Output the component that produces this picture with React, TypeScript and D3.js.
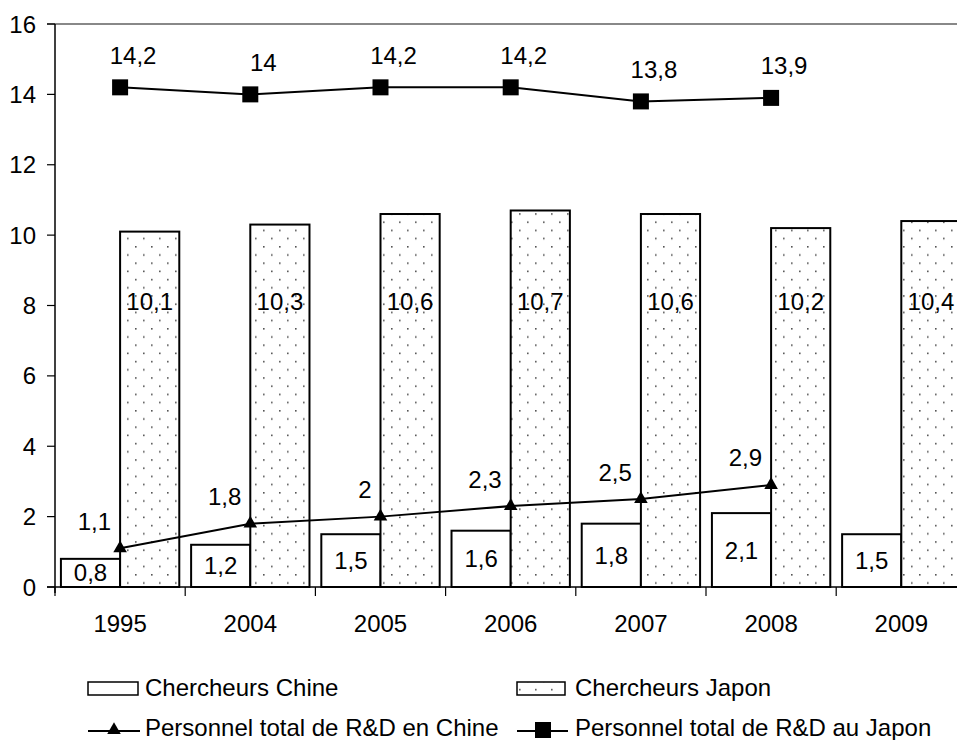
import React from "react";
import * as d3 from "d3";

const years = ["1995", "2004", "2005", "2006", "2007", "2008", "2009"];
const chercheursChine = [0.8, 1.2, 1.5, 1.6, 1.8, 2.1, 1.5];
const chercheursJapon = [10.1, 10.3, 10.6, 10.7, 10.6, 10.2, 10.4];
const personnelChine: (number | null)[] = [1.1, 1.8, 2, 2.3, 2.5, 2.9, null];
const personnelJapon: (number | null)[] = [14.2, 14, 14.2, 14.2, 13.8, 13.9, null];
const yTicks = [0, 2, 4, 6, 8, 10, 12, 14, 16];
const legendLabels = [
  "Chercheurs Chine",
  "Chercheurs Japon",
  "Personnel total de R&D en Chine",
  "Personnel total de R&D au Japon",
];

const W = 957;
const H = 740;
const FONT = "'Liberation Sans', Arial, sans-serif";
const FS = 24;
const JAPON_LABEL_LEVEL = 8.1;

const fmt = (v: number) => String(v).replace(".", ",");

export default function App() {
  const left = 55;
  const right = 966.4;
  const top = 24;
  const bottom = 587;

  const x = d3.scaleBand<string>().domain(years).range([left, right]).paddingInner(0).paddingOuter(0);
  const sub = d3
    .scaleBand<string>()
    .domain(["chine", "japon"])
    .range([0, x.step()])
    .paddingInner(0)
    .paddingOuter(0.1);
  const y = d3.scaleLinear().domain([0, 16]).range([bottom, top]);
  const cx = (yr: string) => (x(yr) as number) + x.bandwidth() / 2;

  const lineGen = d3
    .line<[string, number | null]>()
    .defined((d) => d[1] !== null)
    .x((d) => cx(d[0]))
    .y((d) => y(d[1] as number));

  const chinePts = years.map((yr, i) => [yr, personnelChine[i]] as [string, number | null]);
  const japonPts = years.map((yr, i) => [yr, personnelJapon[i]] as [string, number | null]);

  const tri = d3.symbol().type(d3.symbolTriangle).size(80)();
  const sq = 16;

  return (
    <svg
      width={W}
      height={H}
      style={{ position: "absolute", left: 0, top: 0, background: "#fff" }}
      fontFamily={FONT}
    >
      <defs>
        <pattern id="dots" patternUnits="userSpaceOnUse" width={16} height={16.4} x={7} y={0}>
          <rect width={16} height={16.4} fill="#fff" />
          <rect x={0} y={0} width={1.6} height={1.6} fill="#555" />
          <rect x={8} y={8.2} width={1.6} height={1.6} fill="#555" />
        </pattern>
      </defs>
      <rect width={W} height={H} fill="#fff" />

      {/* top border */}
      <line x1={left - 8} x2={W} y1={top} y2={top} stroke="#888" strokeWidth={2} />

      {/* bars */}
      {years.map((yr, i) => {
        const x0 = x(yr) as number;
        const xc = x0 + (sub("chine") as number);
        const xj = x0 + (sub("japon") as number);
        const bw = sub.bandwidth();
        return (
          <g key={yr}>
            <rect
              x={xc}
              y={y(chercheursChine[i])}
              width={bw}
              height={bottom - y(chercheursChine[i])}
              fill="#fff"
              stroke="#000"
              strokeWidth={2}
            />
            <rect
              x={xj}
              y={y(chercheursJapon[i])}
              width={bw}
              height={bottom - y(chercheursJapon[i])}
              fill="url(#dots)"
              stroke="#000"
              strokeWidth={2}
            />
            <text
              x={xc + bw / 2}
              y={(y(chercheursChine[i]) + bottom) / 2}
              textAnchor="middle"
              dominantBaseline="central"
              fontSize={FS}
            >
              {fmt(chercheursChine[i])}
            </text>
            <text
              x={xj + bw / 2}
              y={y(JAPON_LABEL_LEVEL)}
              textAnchor="middle"
              dominantBaseline="central"
              fontSize={FS}
            >
              {fmt(chercheursJapon[i])}
            </text>
          </g>
        );
      })}

      {/* axes */}
      <line x1={left} x2={left} y1={top} y2={bottom + 6} stroke="#000" strokeWidth={1.5} />
      <line x1={left - 8} x2={W} y1={bottom} y2={bottom} stroke="#000" strokeWidth={1.5} />
      {yTicks.map((t) => (
        <g key={t}>
          <line x1={left - 8} x2={left} y1={y(t)} y2={y(t)} stroke="#000" strokeWidth={1.2} />
          <text x={left - 19} y={y(t)} textAnchor="end" dominantBaseline="central" fontSize={FS}>
            {t}
          </text>
        </g>
      ))}
      {years.map((yr) => (
        <g key={"t" + yr}>
          <line
            x1={x(yr) as number}
            x2={x(yr) as number}
            y1={bottom}
            y2={bottom + 9}
            stroke="#000"
            strokeWidth={1.2}
          />
          <text x={cx(yr)} y={623} textAnchor="middle" dominantBaseline="central" fontSize={FS}>
            {yr}
          </text>
        </g>
      ))}

      {/* lines */}
      <path d={lineGen(chinePts) || ""} fill="none" stroke="#000" strokeWidth={2} />
      <path d={lineGen(japonPts) || ""} fill="none" stroke="#000" strokeWidth={2} />
      {chinePts
        .filter((d) => d[1] !== null)
        .map((d) => (
          <g key={"c" + d[0]}>
            <path d={tri || ""} transform={`translate(${cx(d[0])},${y(d[1] as number)})`} fill="#000" />
            <text
              x={cx(d[0]) - 9}
              y={y(d[1] as number) - 27}
              textAnchor="end"
              dominantBaseline="central"
              fontSize={FS}
            >
              {fmt(d[1] as number)}
            </text>
          </g>
        ))}
      {japonPts
        .filter((d) => d[1] !== null)
        .map((d) => (
          <g key={"j" + d[0]}>
            <rect
              x={cx(d[0]) - sq / 2}
              y={y(d[1] as number) - sq / 2}
              width={sq}
              height={sq}
              fill="#000"
            />
            <text
              x={cx(d[0]) + 13}
              y={y(d[1] as number) - 32}
              textAnchor="middle"
              dominantBaseline="central"
              fontSize={FS}
            >
              {fmt(d[1] as number)}
            </text>
          </g>
        ))}

      {/* legend */}
      <rect x={88} y={682} width={50} height={13} fill="#fff" stroke="#000" strokeWidth={1.5} />
      <text x={145} y={687} dominantBaseline="central" fontSize={FS}>
        {legendLabels[0]}
      </text>
      <rect x={517} y={682} width={48} height={13} fill="url(#dots)" stroke="#000" strokeWidth={1.5} />
      <text x={575} y={687} dominantBaseline="central" fontSize={FS}>
        {legendLabels[1]}
      </text>
      <line x1={88} x2={140} y1={731} y2={731} stroke="#000" strokeWidth={2} />
      <path d={tri || ""} transform="translate(114,730)" fill="#000" />
      <text x={145} y={727} dominantBaseline="central" fontSize={FS}>
        {legendLabels[2]}
      </text>
      <line x1={517} x2={568} y1={731} y2={731} stroke="#000" strokeWidth={2} />
      <rect x={535} y={722} width={16} height={16} fill="#000" />
      <text x={575} y={727} dominantBaseline="central" fontSize={FS}>
        {legendLabels[3]}
      </text>
    </svg>
  );
}
